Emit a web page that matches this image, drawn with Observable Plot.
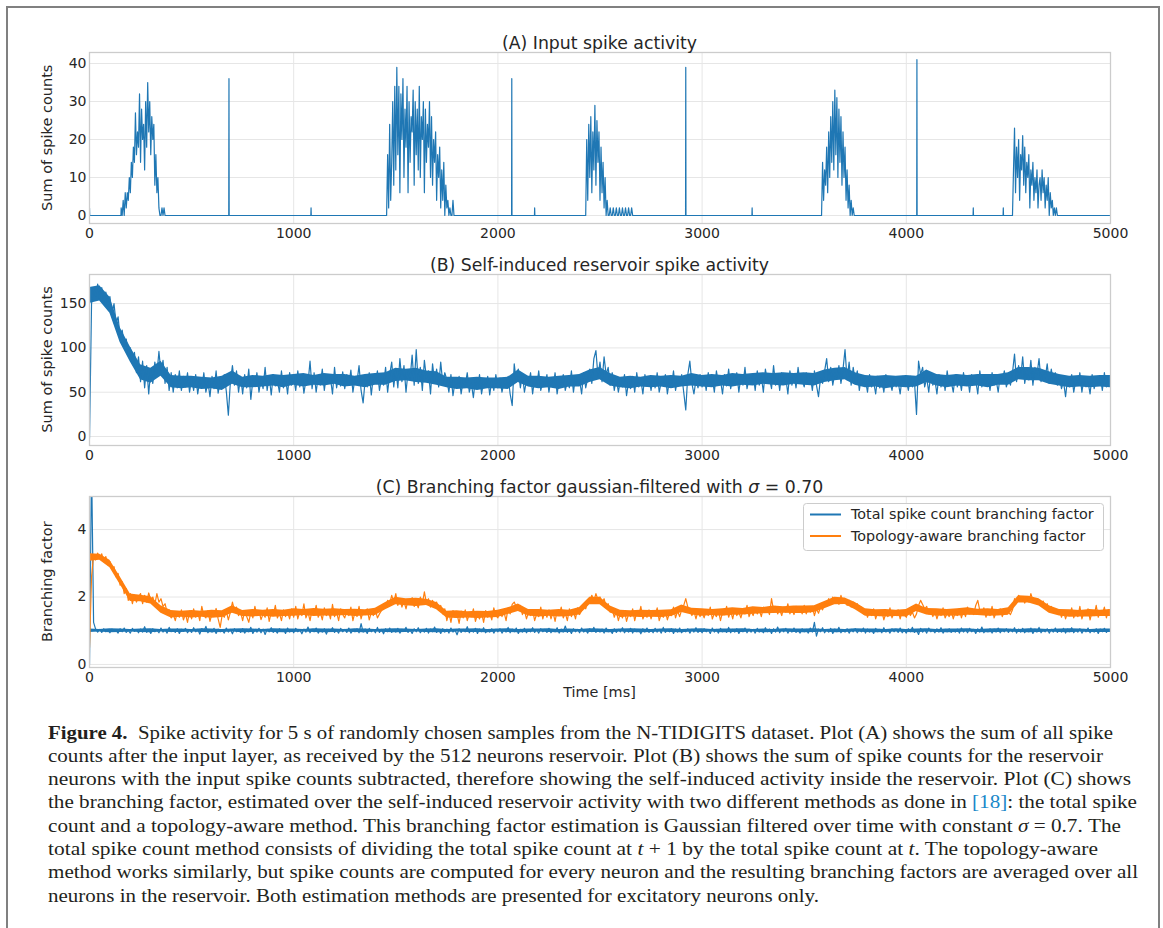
<!DOCTYPE html>
<html><head><meta charset="utf-8">
<script src="https://cdn.jsdelivr.net/npm/d3@7"></script>
<script src="https://cdn.jsdelivr.net/npm/@observablehq/plot@0.6"></script>
<style>
body{margin:0;background:#fff;}
#page{position:relative;width:1163px;height:928px;overflow:hidden;background:#fff;}
#border{position:absolute;left:6px;top:6px;width:1150px;height:960px;border:2px solid #808080;border-bottom:none;}
#caption{position:absolute;left:48px;top:721.5px;font-family:"Liberation Serif",serif;font-size:18px;color:#231f20;line-height:23.3px;}
#caption div{white-space:nowrap;transform-origin:0 0;width:max-content;}
#caption .ref{color:#1a88c9;}
</style></head>
<body><div id="page"><div id="border"></div>
<div id="caption">
<div><b>Figure 4.</b>&nbsp; Spike activity for 5 s of randomly chosen samples from the N-TIDIGITS dataset. Plot (A) shows the sum of all spike</div>
<div>counts after the input layer, as received by the 512 neurons reservoir. Plot (B) shows the sum of spike counts for the reservoir</div>
<div>neurons with the input spike counts subtracted, therefore showing the self-induced activity inside the reservoir. Plot (C) shows</div>
<div>the branching factor, estimated over the self-induced reservoir activity with two different methods as done in <span class="ref">[18]</span>: the total spike</div>
<div>count and a topology-aware method. This branching factor estimation is Gaussian filtered over time with constant <i>σ</i> = 0.7. The</div>
<div>total spike count method consists of dividing the total spike count at <i>t</i> + 1 by the total spike count at <i>t</i>. The topology-aware</div>
<div>method works similarly, but spike counts are computed for every neuron and the resulting branching factors are averaged over all</div>
<div>neurons in the reservoir. Both estimation methods are presented for excitatory neurons only.</div>
</div>
</div>
<script>
// ---------- DATA ----------
const xTicks = [0, 1000, 2000, 3000, 4000, 5000];
const yTicksA = [0, 10, 20, 30, 40];
const yTicksB = [0, 50, 100, 150];
const yTicksC = [0, 2, 4];

// Panel A: input spike activity (isolated spikes + bursts sampled every 5 ms)
const aSpikeT = [0, 683, 1085, 2068, 2180, 2920, 3245, 4052, 4328, 4475];
const aSpikeV = [2, 36, 2, 36, 2, 39, 2, 41, 2, 2];
const aBurstStep = 5;
const aBurstStart = [155, 1455, 2430, 3585, 4520];
const aBurst1 = [2,0,4,0,6,2,6,4,10,6,14,10,18,14,27,16,22,18,32,14,28,20,24,12,30,18,35,22,30,16,26,20,24,8,16,6,10,2,0,0,2,0,2,0];
const aBurst2 = [0,16,2,24,4,14,30,8,34,12,39,16,34,6,32,20,36,10,28,18,34,6,30,14,26,22,33,8,30,16,28,12,34,10,26,20,30,6,28,14,24,18,30,10,26,8,20,14,22,4,16,10,18,2,12,4,14,0,8,2,4,0,2,0,0,4,0];
const aBurst3 = [0,20,4,24,10,26,6,22,12,29,8,25,14,22,4,18,6,14,2,10,0,4,0,0,2,0,0,2,0,0,2,0,0,2,0,0,2,0,0,2,0,0,2,0,0,2,0];
const aBurst4 = [0,14,4,12,8,18,6,22,10,26,14,30,12,33,16,31,10,28,14,26,8,22,10,18,4,12,2,8,0,4,0,2,0];
const aBurst5 = [0,12,23,6,18,10,20,4,16,12,21,8,18,6,14,10,16,2,12,8,14,4,10,6,12,2,8,10,4,12,6,10,2,8,4,10,0,6,2,4,0,2,0,2,0];

// Panel B / C: raw traces sampled every 10 ms from 0 to 5000 ms
const step = 10;
const bSelf = [
-2,150,168,158,172,155,168,150,163,147,158,138,150,128,135,112,120,104,110,92,100,84,95,72,90,
62,85,55,80,48,76,60,84,70,96,72,86,60,78,52,72,50,70,55,74,52,68,56,72,50,
66,52,70,48,64,55,72,50,62,45,68,54,74,49,63,56,70,51,24,62,80,58,74,50,68,
48,70,55,76,42,64,58,72,50,66,54,78,52,68,47,70,57,64,50,74,55,67,48,72,58,
66,52,74,56,70,49,64,60,85,54,72,50,68,58,76,52,70,60,66,48,78,55,69,57,73,
54,70,58,75,50,66,62,80,52,38,64,56,72,47,68,60,74,52,66,58,78,50,70,84,56,
76,55,88,62,80,50,74,65,92,58,98,60,78,52,86,66,74,48,82,62,76,56,84,60,72,
64,50,70,46,62,55,68,48,64,58,72,50,60,44,66,54,70,48,62,56,68,47,64,52,70,
55,66,50,62,58,68,48,35,82,62,76,55,70,50,64,58,72,48,66,56,74,52,62,58,70,
50,66,56,72,48,64,58,70,52,62,55,74,50,68,58,64,48,72,55,66,76,60,88,97,68,
84,62,90,70,78,58,72,52,66,50,64,56,70,46,62,54,68,50,72,56,64,48,70,58,66,
52,68,55,72,50,62,58,70,48,64,56,74,52,66,58,70,50,30,70,85,60,48,64,55,70,
56,68,52,72,58,66,50,74,60,64,48,70,57,76,54,66,60,72,50,68,58,78,54,66,60,
70,52,74,58,68,50,76,62,66,54,80,58,70,52,72,60,66,48,74,58,70,55,78,60,64,
56,72,60,68,52,74,58,45,66,60,74,88,62,78,58,72,66,80,60,76,98,64,84,58,78,
62,74,52,68,58,64,50,70,56,62,48,68,55,64,50,70,58,62,52,66,56,62,48,68,58,
64,52,68,56,62,25,85,70,78,56,66,50,72,58,64,48,70,56,68,52,74,58,62,50,70,
56,66,52,72,58,68,50,70,60,64,48,74,56,68,60,66,52,72,58,64,50,70,62,74,56,
64,58,72,93,62,80,66,90,60,76,64,86,58,78,70,88,62,74,66,82,60,76,62,72,58,
68,54,62,45,66,56,70,50,64,58,72,50,66,56,62,48,70,54,64,58,68,52,72,56,64,
62];
const cTotal = [
0,6,1.25,1.05,0.96,1.04,0.95,1.06,0.97,1.03,0.94,1.05,0.98,1.02,0.93,1.06,0.97,1.08,0.95,1.01,0.93,1.07,0.98,1.03,0.94,
1.05,0.96,1.12,0.95,1.03,0.92,1.06,0.97,1.02,0.94,1.08,0.96,1.04,0.93,1.1,0.97,1.03,0.95,1.06,0.92,1.04,0.98,1.07,0.94,1.02,
0.95,1.09,0.97,1.04,0.9,1.06,0.98,1.13,0.94,1.03,0.96,1.07,0.92,1.05,0.97,1.02,0.93,1.08,0.96,1.04,0.91,1.06,0.97,1.03,0.95,
1.06,0.93,1.04,0.97,1.1,0.92,1.03,0.96,1.07,0.94,1.05,0.89,1.04,0.97,1.09,0.95,1.02,0.93,1.06,0.98,1.04,0.92,1.08,0.96,1.03,
0.94,1.07,0.97,1.02,0.91,1.05,0.96,1.11,0.94,1.04,0.97,1.08,0.93,1.03,0.96,1.06,0.9,1.04,0.98,1.09,0.95,1.02,0.93,1.07,0.97,
1.04,0.95,1.08,0.93,1.02,0.97,1.06,0.94,1.21,0.96,1.05,0.92,1.07,0.97,1.03,0.94,1.1,0.95,1.04,0.91,1.06,0.97,1.08,0.95,1.03,
0.96,1.07,0.93,1.04,0.98,1.1,0.95,1.03,0.92,1.06,0.97,1.09,0.94,1.02,0.96,1.07,0.93,1.05,0.97,1.11,0.95,1.03,0.92,1.06,0.96,
1.05,0.93,1.08,0.96,1.02,0.88,1.06,0.95,1.04,0.97,1.12,0.94,1.03,0.96,1.07,0.92,1.05,0.97,1.09,0.94,1.02,0.96,1.06,0.93,1.04,
0.97,1.06,0.93,1.03,0.96,1.1,0.94,1.05,0.97,1.08,0.92,1.04,0.96,1.07,0.94,1.02,0.97,1.09,0.95,1.03,0.93,1.06,0.97,1.04,0.95,
1.07,0.94,1.03,0.97,1.09,0.93,1.05,0.96,1.14,0.95,1.03,0.92,1.06,0.97,1.04,0.94,1.08,0.96,1.02,0.93,1.06,0.97,1.1,0.95,1.04,
0.96,1.05,0.93,1.08,0.97,1.03,0.92,1.06,0.95,1.04,0.97,1.09,0.94,1.02,0.96,1.07,0.93,1.05,0.97,1.03,0.91,1.06,0.96,1.08,0.95,
1.03,0.94,1.07,0.96,1.04,0.93,1.1,0.95,1.02,0.97,1.06,0.92,1.05,0.96,1.08,0.94,1.03,0.97,1.06,0.93,1.04,0.96,1.09,0.95,1.02,
0.94,1.06,0.97,1.03,0.92,1.08,0.96,1.04,0.93,1.07,0.97,1.02,0.95,1.1,0.94,1.04,0.96,1.06,0.92,1.03,0.97,1.08,0.94,1.05,0.96,
1.04,0.93,1.07,0.96,1.03,0.94,1.09,0.97,1.05,0.92,1.06,0.96,1.11,0.94,1.03,0.97,1.07,0.93,1.04,0.96,1.08,0.95,1.02,0.93,1.06,
0.97,1.04,0.93,1.08,0.96,1.25,0.84,1.05,0.97,1.09,0.94,1.03,0.96,1.07,0.92,1.05,0.97,1.1,0.94,1.03,0.96,1.06,0.93,1.04,0.97,
1.06,0.94,1.03,0.97,1.08,0.93,1.05,0.96,1.02,0.92,1.07,0.97,1.04,0.94,1.09,0.96,1.03,0.93,1.06,0.97,1.04,0.95,1.08,0.94,1.02,
0.93,1.06,0.97,1.1,0.95,1.03,0.89,1.07,0.96,1.04,0.93,1.08,0.97,1.02,0.94,1.06,0.96,1.09,0.93,1.04,0.97,1.06,0.95,1.03,0.96,
1.05,0.93,1.08,0.96,1.03,0.94,1.07,0.97,1.04,0.92,1.06,0.96,1.11,0.94,1.03,0.97,1.06,0.93,1.05,0.96,1.08,0.94,1.03,0.97,1.06,
0.95,1.04,0.97,1.09,0.93,1.05,0.96,1.07,0.94,1.03,0.97,1.08,0.92,1.05,0.96,1.1,0.94,1.03,0.97,1.06,0.93,1.04,0.96,1.08,0.95,
1.03,0.96,1.07,0.93,1.05,0.97,1.09,0.94,1.02,0.96,1.06,0.93,1.04,0.97,1.08,0.94,1.03,0.96,1.06,0.92,1.05,0.97,1.07,0.95,1.03,
1.0];
const cTopo = [
0.5,2.6,3.25,3.1,3.3,3.15,3.28,3.05,3.2,2.95,3.05,2.85,2.9,2.6,2.7,2.35,2.45,2.1,2.25,1.9,2.1,1.8,2.05,1.85,2.0,
2.1,1.8,2.05,1.85,2.12,1.9,2.0,1.78,2.1,1.85,1.95,1.72,1.8,1.55,1.62,1.38,1.5,1.3,1.55,1.4,1.62,1.32,1.5,1.25,1.58,
1.35,1.65,1.4,1.55,1.3,1.72,1.45,1.38,1.6,1.28,1.52,1.42,1.66,1.35,1.1,1.48,1.4,1.58,1.32,1.55,1.85,1.6,1.7,1.45,1.55,
1.3,1.6,1.42,1.25,1.55,1.38,1.72,1.45,1.6,1.33,1.5,1.4,1.68,1.28,1.55,1.45,1.75,1.38,1.52,1.3,1.62,1.42,1.55,1.35,1.65,
1.4,1.72,1.35,1.58,1.45,1.8,1.38,1.55,1.3,1.62,1.48,1.75,1.4,1.55,1.32,1.68,1.45,1.6,1.35,1.78,1.42,1.55,1.3,1.65,1.48,
1.38,1.62,1.45,1.7,1.3,1.55,1.42,1.72,1.35,1.58,1.48,1.65,1.32,1.55,1.45,1.62,1.38,1.5,1.6,1.75,1.7,1.9,1.8,2.05,1.85,
2.1,1.75,1.95,1.7,1.88,1.65,1.92,1.78,1.98,1.72,1.85,1.68,2.0,1.8,2.15,1.82,1.95,1.7,1.9,1.75,1.85,1.6,1.75,1.5,1.65,
1.3,1.55,1.25,1.6,1.4,1.5,1.22,1.58,1.38,1.62,1.3,1.5,1.42,1.65,1.28,1.48,1.35,1.55,1.25,1.6,1.4,1.52,1.32,1.68,1.45,
1.38,1.6,1.42,1.55,1.3,1.68,1.5,1.78,1.85,1.7,1.62,1.75,1.48,1.6,1.35,1.55,1.45,1.62,1.3,1.5,1.42,1.7,1.35,1.58,1.4,
1.62,1.35,1.55,1.28,1.6,1.45,1.7,1.38,1.52,1.3,1.65,1.42,1.58,1.35,1.68,1.48,1.6,1.75,1.65,1.85,1.9,2.05,1.88,2.1,1.92,
2.0,1.82,1.95,1.7,1.8,1.55,1.65,1.4,1.58,1.3,1.52,1.38,1.6,1.28,1.5,1.42,1.65,1.3,1.55,1.45,1.72,1.35,1.5,1.4,1.62,
1.35,1.55,1.45,1.68,1.3,1.5,1.4,1.6,1.32,1.52,1.45,1.7,1.38,1.58,1.42,1.62,1.75,1.95,1.7,1.6,1.45,1.58,1.35,1.6,1.42,
1.55,1.38,1.62,1.45,1.7,1.35,1.52,1.42,1.6,1.3,1.55,1.48,1.72,1.4,1.58,1.35,1.65,1.45,1.55,1.38,1.62,1.5,1.75,1.42,1.58,
1.45,1.68,1.5,1.62,1.42,1.7,1.55,1.65,1.48,1.95,1.6,1.72,1.5,1.62,1.45,1.7,1.55,1.8,1.5,1.65,1.48,1.72,1.55,1.68,1.5,
1.75,1.5,1.68,1.55,1.72,1.45,1.65,1.52,1.7,1.62,1.8,1.72,1.95,1.8,2.0,1.85,1.98,1.78,2.05,1.85,1.95,1.75,1.9,1.7,1.85,
1.72,1.8,1.6,1.7,1.5,1.62,1.4,1.58,1.45,1.65,1.35,1.55,1.45,1.6,1.32,1.52,1.42,1.68,1.38,1.55,1.45,1.62,1.35,1.58,1.48,
1.4,1.6,1.45,1.55,1.38,1.5,1.75,1.9,1.78,1.65,1.72,1.5,1.62,1.42,1.58,1.35,1.55,1.45,1.68,1.38,1.52,1.42,1.6,1.35,1.55,
1.45,1.65,1.38,1.58,1.42,1.7,1.5,1.62,1.48,1.75,1.9,1.6,1.52,1.68,1.4,1.6,1.45,1.72,1.38,1.55,1.5,1.65,1.42,1.58,1.5,
1.55,1.48,1.62,1.95,1.85,2.05,1.88,2.0,1.82,1.98,1.85,2.1,1.9,1.95,1.8,1.92,1.78,1.88,1.7,1.8,1.62,1.72,1.55,1.65,1.5,
1.62,1.4,1.58,1.35,1.55,1.45,1.68,1.38,1.6,1.42,1.72,1.35,1.55,1.48,1.65,1.32,1.58,1.45,1.75,1.4,1.6,1.5,1.7,1.38,1.62,
1.48];

// Dense core of each trace (lower / upper edge), read every 50 ms from 0 to 5000 ms
const coreStep = 50;
const bCoreLo = [
150,153,139,106,84,64,60,68,55,54, 55,53,54,52,59,55,55,56,57,55,
58,56,58,57,59,56,57,55,58,58, 62,63,61,60,58,55,53,54,52,54,
54,53,61,56,54,55,53,56,56,61, 64,57,55,54,56,55,56,54,56,57,
56,55,57,56,58,57,59,58,57,59, 58,57,61,63,64,58,55,56,54,56,
55,56,61,57,55,57,56,57,55,58, 58,64,63,63,59,57,55,56,55,56, 55];
const bCoreHi = [
168,170,157,123,101,81,77,85,69,68, 68,67,66,68,74,67,69,68,70,69,
70,71,69,71,70,70,68,70,71,72, 77,76,77,74,73,67,67,66,67,66,
66,67,75,68,68,67,68,69,70,75, 78,71,67,68,67,69,68,69,68,71,
69,70,69,71,70,71,72,71,72,71, 72,71,75,77,78,72,69,68,69,68,
69,68,75,70,69,70,69,70,70,70, 72,78,78,77,73,70,68,69,68,69, 69];
const cTotalLo = [
0.95,0.96,0.94,0.95,0.96,0.95,0.94,0.96,0.95,0.95, 0.96,0.95,0.94,0.95,0.96,0.94,0.95,0.96,0.95,0.94,
0.95,0.96,0.95,0.94,0.95,0.96,0.95,0.94,0.96,0.95, 0.94,0.95,0.96,0.95,0.94,0.95,0.96,0.95,0.95,0.94,
0.96,0.95,0.94,0.95,0.96,0.95,0.94,0.95,0.96,0.95, 0.95,0.94,0.96,0.95,0.94,0.95,0.96,0.95,0.94,0.96,
0.95,0.96,0.94,0.95,0.95,0.96,0.94,0.95,0.96,0.95, 0.94,0.95,0.96,0.94,0.95,0.96,0.95,0.94,0.95,0.96,
0.95,0.94,0.96,0.95,0.94,0.95,0.96,0.95,0.94,0.95, 0.96,0.95,0.94,0.95,0.96,0.95,0.94,0.96,0.95,0.95, 0.95];
const cTotalHi = [
1.05,1.04,1.06,1.05,1.04,1.05,1.06,1.04,1.05,1.05, 1.04,1.06,1.05,1.04,1.05,1.06,1.05,1.04,1.06,1.05,
1.05,1.04,1.06,1.05,1.05,1.04,1.06,1.05,1.04,1.05, 1.06,1.05,1.04,1.05,1.06,1.04,1.05,1.05,1.06,1.04,
1.05,1.06,1.04,1.05,1.05,1.06,1.04,1.05,1.04,1.06, 1.05,1.04,1.05,1.06,1.05,1.04,1.05,1.06,1.04,1.05,
1.06,1.04,1.05,1.05,1.06,1.04,1.05,1.04,1.06,1.05, 1.05,1.06,1.04,1.05,1.04,1.06,1.05,1.05,1.04,1.06,
1.04,1.05,1.06,1.04,1.05,1.05,1.06,1.04,1.05,1.06, 1.05,1.04,1.06,1.05,1.04,1.05,1.06,1.05,1.04,1.05, 1.05];
const cTopoLo = [
3.06,3.09,2.87,2.37,1.87,1.86,1.79,1.52,1.38,1.4, 1.38,1.4,1.37,1.39,1.52,1.42,1.41,1.43,1.4,1.42,
1.43,1.45,1.42,1.44,1.43,1.45,1.42,1.44,1.45,1.62, 1.77,1.74,1.72,1.75,1.62,1.38,1.36,1.38,1.36,1.38,
1.39,1.48,1.57,1.44,1.41,1.43,1.41,1.42,1.47,1.77, 1.77,1.53,1.39,1.41,1.39,1.4,1.39,1.42,1.54,1.47,
1.43,1.45,1.43,1.46,1.47,1.49,1.5,1.51,1.52,1.51, 1.51,1.54,1.65,1.77,1.78,1.62,1.43,1.42,1.41,1.42,
1.41,1.57,1.47,1.43,1.44,1.43,1.46,1.45,1.43,1.44, 1.46,1.82,1.82,1.73,1.52,1.44,1.4,1.41,1.41,1.42, 1.42];
const cTopoHi = [
3.28,3.27,3.09,2.6,2.09,2.05,2.01,1.74,1.6,1.58, 1.6,1.58,1.61,1.59,1.74,1.6,1.63,1.61,1.63,1.61,
1.65,1.63,1.66,1.64,1.65,1.63,1.64,1.62,1.67,1.84, 1.99,1.95,1.96,1.93,1.84,1.58,1.59,1.56,1.58,1.57,
1.61,1.68,1.79,1.63,1.63,1.61,1.63,1.61,1.69,1.99, 1.99,1.73,1.61,1.59,1.61,1.6,1.61,1.62,1.76,1.67,
1.65,1.63,1.65,1.68,1.66,1.71,1.69,1.73,1.71,1.73, 1.73,1.74,1.87,1.99,1.97,1.84,1.65,1.62,1.63,1.61,
1.63,1.79,1.66,1.65,1.63,1.65,1.68,1.64,1.65,1.63, 1.68,2.04,2.02,1.95,1.74,1.63,1.62,1.6,1.63,1.61, 1.63];

const seriesNames = ["Total spike count branching factor", "Topology-aware branching factor"];
const titles = ["(A) Input spike activity", "(B) Self-induced reservoir spike activity", "(C) Branching factor gaussian-filtered with "];

// ---------- BUILD TABLES ----------
const aPts = [];
aSpikeT.forEach((t, i) => {
  if (t > 0) aPts.push({t: t - 1, v: 0});
  aPts.push({t, v: aSpikeV[i]});
  aPts.push({t: t + 1, v: 0});
});
[aBurst1, aBurst2, aBurst3, aBurst4, aBurst5].forEach((b, k) => {
  aPts.push({t: aBurstStart[k] - 1, v: 0});
  b.forEach((v, i) => aPts.push({t: aBurstStart[k] + i * aBurstStep, v}));
});
aPts.push({t: 5000, v: 0});
aPts.sort((p, q) => p.t - q.t);
const toRows = arr => arr.map((v, i) => ({t: i * step, v}));
const toCore = (lo, hi) => lo.map((v, i) => ({t: i * coreStep, lo: v, hi: hi[i]}));

const blue = "#1f77b4", orange = "#ff7f0e";
const page = document.getElementById("page");
const W = 1163, ML = 89, MR = 53;

function panel(top, yDomain, yTicks, lines) {
  const marks = [
    Plot.gridX(xTicks, {stroke: "#e6e6e6", strokeOpacity: 1, strokeWidth: 1}),
    Plot.gridY(yTicks, {stroke: "#e6e6e6", strokeOpacity: 1, strokeWidth: 1})
  ];
  lines.forEach(l => {
    if (l.core) marks.push(Plot.areaY(l.core, {x: "t", y1: "lo", y2: "hi", fill: l.color, fillOpacity: 1, clip: true}));
    marks.push(Plot.line(l.data, {x: "t", y: "v", stroke: l.color, strokeWidth: l.width || 1, clip: true}));
  });
  marks.push(
    Plot.frame({stroke: "#cccccc", strokeWidth: 1.3}),
    Plot.axisX(xTicks, {tickSize: 0, tickPadding: 5, tickFormat: "d", label: null, fontSize: 14}),
    Plot.axisY(yTicks, {tickSize: 0, tickPadding: 3, tickFormat: "d", label: null, fontSize: 14})
  );
  const svg = Plot.plot({
    width: W, height: 221, marginLeft: ML, marginRight: MR, marginTop: 20, marginBottom: 30,
    style: {fontFamily: "'DejaVu Sans', sans-serif", fontSize: "14px", color: "#262626", background: "transparent", overflow: "visible"},
    x: {domain: [0, 5000]},
    y: {domain: yDomain},
    marks
  });
  svg.style.position = "absolute";
  svg.style.left = "0px";
  svg.style.top = top + "px";
  page.appendChild(svg);
}

panel(32, [-2.1, 42.9], yTicksA, [{data: aPts, color: blue, width: 1.2}]);
panel(254, [-10.1, 182.8], yTicksB, [{data: toRows(bSelf), core: toCore(bCoreLo, bCoreHi), color: blue, width: 1.2}]);
panel(476, [-0.09, 4.98], yTicksC, [
  {data: toRows(cTotal), core: toCore(cTotalLo, cTotalHi), color: blue, width: 1.2},
  {data: toRows(cTopo), core: toCore(cTopoLo, cTopoHi), color: orange, width: 1.2}
]);

// ---------- TEXT OVERLAY (titles, labels, legend) ----------
const cx = (ML + (W - MR)) / 2;
const ov = d3.select(page).append("svg")
  .attr("width", W).attr("height", 928)
  .style("position", "absolute").style("left", 0).style("top", 0)
  .attr("font-family", "'DejaVu Sans', sans-serif").attr("fill", "#262626");
const titleY = [49, 271, 493];
titles.forEach((s, i) => {
  const t = ov.append("text").attr("x", cx).attr("y", titleY[i]).attr("text-anchor", "middle").attr("font-size", 17.3).text(s);
  if (i === 2) {
    t.append("tspan").attr("font-style", "italic").text("σ");
    t.append("tspan").text(" = 0.70");
  }
});
const labY = [137.8, 359.5, 581.7];
["Sum of spike counts", "Sum of spike counts", "Branching factor"].forEach((s, i) => {
  ov.append("text").attr("transform", `translate(52,${labY[i]}) rotate(-90)`).attr("text-anchor", "middle").attr("font-size", 14.5).text(s);
});
ov.append("text").attr("x", cx).attr("y", 697).attr("text-anchor", "middle").attr("font-size", 14.4).text("Time [ms]");
// legend
ov.append("rect").attr("x", 803.5).attr("y", 503.5).attr("width", 300).attr("height", 47).attr("rx", 3)
  .attr("fill", "#fff").attr("fill-opacity", 0.85).attr("stroke", "#cccccc");
const legY = [514.5, 536];
seriesNames.forEach((s, i) => {
  ov.append("line").attr("x1", 810).attr("x2", 841).attr("y1", legY[i]).attr("y2", legY[i]).attr("stroke", [blue, orange][i]).attr("stroke-width", 2);
  ov.append("text").attr("x", 851).attr("y", legY[i] + 4.5).attr("font-size", 14.3).text(s);
});

// ---------- CAPTION FIT ----------
const lineEnds = [1113, 1103, 1131, 1137, 1121, 1098, 1138, 819];
function fit() {
  document.querySelectorAll("#caption div").forEach((d, i) => {
    d.style.transform = "none";
    const w = d.getBoundingClientRect().width;
    d.style.transform = `scaleX(${(lineEnds[i] - 48) / w})`;
  });
}
fit();
if (document.fonts && document.fonts.ready) document.fonts.ready.then(fit);
</script>
</body></html>
